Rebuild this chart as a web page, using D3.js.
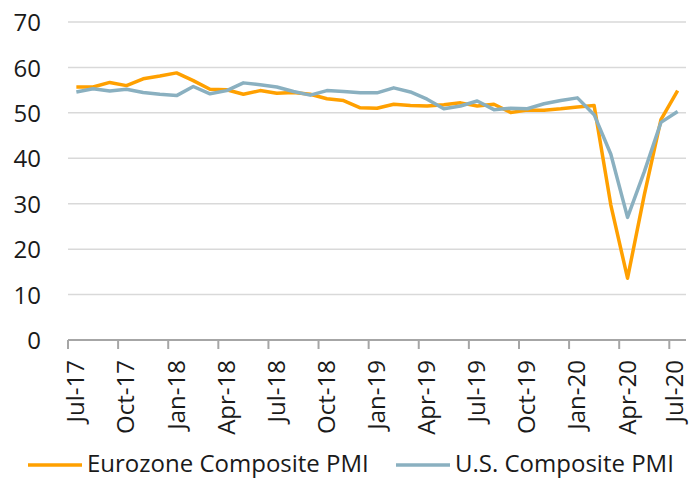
<!DOCTYPE html>
<html>
<head>
<meta charset="utf-8">
<script src="https://cdn.jsdelivr.net/npm/d3@7"></script>
<style>
  body { margin: 0; background: #fff; }
  svg text { font-family: "Open Sans", sans-serif; fill: #1a1a1a; }
</style>
</head>
<body>
<div class="chart"></div>
<script>
// ===============================
// Data
// ===============================

const months = [
    "Jul-17", "Aug-17", "Sep-17", "Oct-17", "Nov-17", "Dec-17",
    "Jan-18", "Feb-18", "Mar-18", "Apr-18", "May-18", "Jun-18",
    "Jul-18", "Aug-18", "Sep-18", "Oct-18", "Nov-18", "Dec-18",
    "Jan-19", "Feb-19", "Mar-19", "Apr-19", "May-19", "Jun-19",
    "Jul-19", "Aug-19", "Sep-19", "Oct-19", "Nov-19", "Dec-19",
    "Jan-20", "Feb-20", "Mar-20", "Apr-20", "May-20", "Jun-20",
    "Jul-20"
];

const eurozone = [
    55.7, 55.7, 56.7, 56.0, 57.5, 58.1,
    58.8, 57.1, 55.2, 55.1, 54.1, 54.9,
    54.3, 54.5, 54.1, 53.1, 52.7, 51.1,
    51.0, 51.9, 51.6, 51.5, 51.8, 52.2,
    51.5, 51.9, 50.1, 50.6, 50.6, 50.9,
    51.3, 51.6, 29.7, 13.6, 31.9, 48.5,
    54.9
];

const us = [
    54.6, 55.3, 54.8, 55.2, 54.5, 54.1,
    53.8, 55.8, 54.2, 54.9, 56.6, 56.2,
    55.7, 54.7, 53.9, 54.9, 54.7, 54.4,
    54.4, 55.5, 54.6, 53.0, 50.9, 51.5,
    52.6, 50.7, 51.0, 50.9, 52.0, 52.7,
    53.3, 49.6, 40.9, 27.0, 37.0, 47.9,
    50.3
];

const yTicks = [0, 10, 20, 30, 40, 50, 60, 70];
const xLabels = months.filter((m, i) => i % 3 === 0);

const seriesNames = ["Eurozone Composite PMI", "U.S. Composite PMI"];
const seriesColors = ["#ffa000", "#8ab0c0"];

// ===============================
// Chart
// ===============================

const width = 690;
const height = 479;
const margin = { top: 22, right: 4, bottom: 139, left: 68 };

const svg = d3.select(".chart")
    .append("svg")
    .attr("width", width)
    .attr("height", height);

const x = d3.scaleBand()
    .domain(months)
    .range([margin.left, width - margin.right]);

const y = d3.scaleLinear()
    .domain([0, 70])
    .range([height - margin.bottom, margin.top]);

// grid lines
svg.append("g")
    .selectAll("line")
    .data(yTicks.filter(d => d > 0))
    .join("line")
    .attr("x1", margin.left)
    .attr("x2", width - margin.right)
    .attr("y1", d => y(d))
    .attr("y2", d => y(d))
    .attr("stroke", "#d9d9d9")
    .attr("stroke-width", 1.5);

// y axis labels
svg.append("g")
    .selectAll("text")
    .data(yTicks)
    .join("text")
    .attr("x", 41)
    .attr("y", d => y(d))
    .attr("dy", "0.38em")
    .attr("text-anchor", "end")
    .style("font-size", "24px")
    .text(d => d);

// x axis line + tick marks
const axisY = y(0);

svg.append("line")
    .attr("x1", margin.left)
    .attr("x2", width - margin.right)
    .attr("y1", axisY)
    .attr("y2", axisY)
    .attr("stroke", "#a6a6a6")
    .attr("stroke-width", 2);

svg.append("g")
    .selectAll("line")
    .data(xLabels)
    .join("line")
    .attr("x1", d => x(d))
    .attr("x2", d => x(d))
    .attr("y1", axisY)
    .attr("y2", axisY + 9)
    .attr("stroke", "#a6a6a6")
    .attr("stroke-width", 2);

// x axis labels (rotated) - keep last one inside the frame
svg.append("g")
    .selectAll("text")
    .data(xLabels)
    .join("text")
    .attr("transform", d => {
        const cx = Math.min(x(d) + x.bandwidth() / 2 + 8, width - 7);
        return `translate(${cx},${axisY + 20}) rotate(-90)`;
    })
    .attr("text-anchor", "end")
    .style("font-size", "24px")
    .text(d => d);

// lines
const line = d3.line()
    .x((d, i) => x(months[i]) + x.bandwidth() / 2)
    .y(d => y(d));

[eurozone, us].forEach((vals, k) => {
    svg.append("path")
        .datum(vals)
        .attr("fill", "none")
        .attr("stroke", seriesColors[k])
        .attr("stroke-width", 3.5)
        .attr("stroke-linejoin", "round")
        .attr("d", line);
});

// legend
const legendX = [28, 396];
const legend = svg.append("g");

seriesNames.forEach((name, k) => {
    legend.append("line")
        .attr("x1", legendX[k])
        .attr("x2", legendX[k] + 54)
        .attr("y1", 465)
        .attr("y2", 465)
        .attr("stroke", seriesColors[k])
        .attr("stroke-width", 3.5);

    legend.append("text")
        .attr("x", legendX[k] + 59)
        .attr("y", 472)
        .style("font-size", "24px")
        .text(name);
});
</script>
</body>
</html>
